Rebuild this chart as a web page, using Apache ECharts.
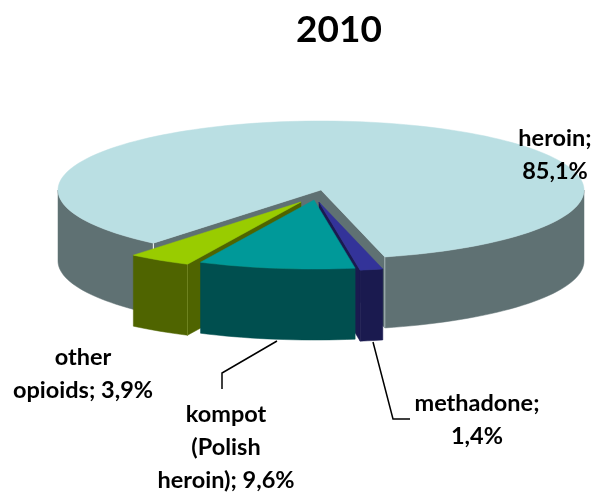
<!DOCTYPE html>
<html>
<head>
<meta charset="utf-8">
<script src="https://cdn.jsdelivr.net/npm/echarts@6/dist/echarts.min.js"></script>
<style>
html, body { margin: 0; padding: 0; background: #fff; }
#main { width: 596px; height: 495px; }
</style>
</head>
<body>
<div id="main"></div>
<script>
var chartTitle = '2010';
var categories = ['heroin', 'methadone', 'kompot\n(Polish\nheroin)', 'other\nopioids'];
var values = [85.1, 1.4, 9.6, 3.9];
// heroin and methadone break the line after the ";"
var breakAfterName = [true, true, false, false];

// look of the fake 3d pie
var topColors = ['#badfe3', '#333399', '#009999', '#99cc00'];
var sideColors = ['#5f7173', '#1a1a4f', '#004f4f', '#4f6400'];
var offsets = [[0, 0], [-2, 12], [-7, 10], [-20, 12]];
var labelPos = [[555, 155], [477, 420], [226, 447], [83, 374]];
var leaders = [
    [[277, 341], [222, 373], [222, 389]],
    [[373, 342], [393, 419], [410, 419]]
];
var cx = 321, cy = 190, rx = 263, ry = 69, depth = 71;
var startAngle = 129.6;

function toRad(d) {
    return d * Math.PI / 180;
}

function point(t, off, down) {
    return [cx + off[0] + rx * Math.cos(toRad(t)), cy + off[1] + ry * Math.sin(toRad(t)) + (down || 0)];
}

function arcPoints(from, to, off, down) {
    var pts = [];
    var n = Math.max(2, Math.ceil((to - from) / 2));
    for (var i = 0; i <= n; i++) {
        pts.push(point(from + (to - from) * i / n, off, down));
    }
    return pts;
}

function poly(pts, color, z) {
    return {
        type: 'polygon',
        z2: z,
        shape: { points: pts },
        style: { fill: color, stroke: color, lineWidth: 0.5 }
    };
}

function edge(t, off, color, z, len) {
    return {
        type: 'line',
        z2: z,
        shape: {
            x1: point(t, off)[0], y1: point(t, off)[1],
            x2: point(t, off, len)[0], y2: point(t, off, len)[1]
        },
        style: { stroke: color, lineWidth: 1 }
    };
}

function wall(t, off, color, z) {
    var apex = [cx + off[0], cy + off[1]];
    return poly([apex, point(t, off), point(t, off, depth), [apex[0], apex[1] + depth]], color, z);
}

// outer skirt, only the part turned to the viewer
function skirt(from, to, off, color, z) {
    var out = [];
    for (var k = 0; k <= 2; k++) {
        var a = Math.max(from, k * 360), b = Math.min(to, k * 360 + 180);
        if (b > a) {
            out.push(poly(arcPoints(a, b, off, 0).concat(arcPoints(a, b, off, depth).reverse()), color, z));
        }
    }
    return out;
}

// draw order is back to front, not the data order
var drawRank = [0, 2, 3, 1];

function renderSlice(params, api) {
    var i = params.dataIndex;
    var total = 0, before = 0;
    for (var j = 0; j < values.length; j++) {
        total += values[j];
        if (j < i) before += values[j];
    }
    var from = startAngle + before / total * 360;
    var to = from + api.value(0) / total * 360;
    var off = offsets[i];
    var side = sideColors[i];
    var z = drawRank[i] * 10;
    var kids = [];
    // a cut wall shows if it faces the viewer
    if (Math.cos(toRad(from)) < 0) kids.push(wall(from, off, side, z));
    if (Math.cos(toRad(to)) > 0) kids.push(wall(to, off, side, z));
    kids = kids.concat(skirt(from, to, off, side, z + 1));
    if (i == 0) {
        kids.push(edge(to % 360, off, '#a9b8b9', z + 2, depth));
        kids.push(edge(from, off, '#ffffff', z + 2, 9));
    }
    if (i == 3) kids.push(edge(from, off, '#6f8420', z + 2, depth));
    var apex = [cx + off[0], cy + off[1]];
    kids.push(poly([apex].concat(arcPoints(from, to, off, 0)), topColors[i], z + 3));
    return { type: 'group', children: kids };
}

function labelText(i) {
    var v = String(values[i]).replace('.', ',') + '%';
    return categories[i] + ';' + (breakAfterName[i] ? '\n' : ' ') + v;
}

var graphics = [];
for (var i = 0; i < categories.length; i++) {
    graphics.push({
        type: 'text',
        z: 10,
        x: labelPos[i][0],
        y: labelPos[i][1],
        style: {
            text: labelText(i),
            fill: '#000',
            font: 'bold 23.5px Lato',
            lineHeight: 33,
            align: 'center',
            verticalAlign: 'middle'
        }
    });
}
for (var l = 0; l < leaders.length; l++) {
    graphics.push({
        type: 'polyline',
        z: 10,
        shape: { points: leaders[l] },
        style: { stroke: '#000', lineWidth: 1.5, fill: 'none' }
    });
}

var mychart = echarts.init(document.getElementById('main'), null, { renderer: 'canvas' });
var option = {
    animation: false,
    backgroundColor: '#fff',
    title: {
        text: chartTitle,
        left: 334,
        top: 7,
        textAlign: 'center',
        textStyle: { fontFamily: 'Lato', fontWeight: 'bold', fontSize: 37, color: '#000' }
    },
    graphic: graphics,
    series: [{
        type: 'custom',
        coordinateSystem: 'none',
        renderItem: renderSlice,
        data: values.map(function (v) { return [v]; })
    }]
};
mychart.setOption(option);
</script>
</body>
</html>
